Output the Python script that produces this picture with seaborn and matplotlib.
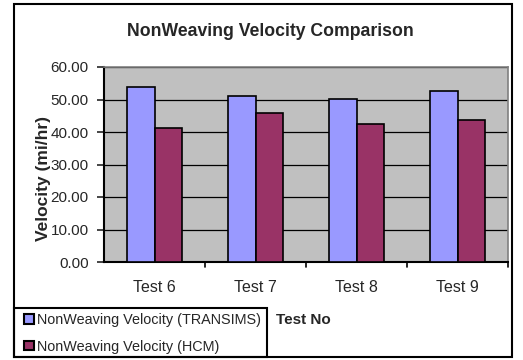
import pandas as pd
import numpy as np
import matplotlib.pyplot as plt
import seaborn as sns
from matplotlib.patches import Rectangle

sns.set_style('white')
plt.rcParams['font.family'] = ['Liberation Sans', 'DejaVu Sans']

# Data
tests = ['Test 6', 'Test 7', 'Test 8', 'Test 9']
transims = [53.8, 51.2, 50.1, 52.5]
hcm = [41.3, 45.8, 42.6, 43.6]
series = ['NonWeaving Velocity (TRANSIMS)', 'NonWeaving Velocity (HCM)']

df = pd.DataFrame({
    'Test': tests * 2,
    'Velocity': transims + hcm,
    'Series': [series[0]] * 4 + [series[1]] * 4,
})

fig = plt.figure(figsize=(5.23, 3.6), dpi=100)
W, H = 523, 360
ax = fig.add_axes([104 / W, 1 - 262 / H, (508 - 104) / W, (262 - 67) / H])

sns.barplot(data=df, x='Test', y='Velocity', hue='Series',
            palette=['#9999FF', '#993366'], saturation=1, width=0.55, gap=0,
            edgecolor='black', linewidth=1.2, ax=ax, legend=False,
            zorder=3)

ax.set_facecolor('#C0C0C0')
ax.set_ylim(0, 60)
ax.set_xlim(-0.5, 3.5)
ax.set_yticks(np.arange(0, 61, 10))
ax.set_yticklabels([f'{v:.2f}' for v in np.arange(0, 61, 10)], fontsize=11)
ax.yaxis.grid(True, color='black', linewidth=0.9, zorder=1)
ax.set_axisbelow(True)
ax.tick_params(axis='y', direction='out', length=5, width=1.2, left=True, pad=6)
ax.set_xticks([0, 1, 2, 3])
ax.set_xticklabels(tests, fontsize=11.5)
ax.tick_params(axis='x', length=0, pad=13)
for b in [0.5, 1.5, 2.5, 3.5]:
    ax.plot([b, b], [0, -0.025], transform=ax.get_xaxis_transform(),
            color='black', linewidth=1.2, clip_on=False)
ax.set_xlabel('')
ax.set_ylabel('Velocity (mi/hr)', fontsize=12.5, fontweight='bold')
ax.yaxis.set_label_coords((51 - 104) / (508 - 104), 0.43)

for side in ['top', 'right']:
    ax.spines[side].set_color('#808080')
    ax.spines[side].set_linewidth(1.2)
for side in ['left', 'bottom']:
    ax.spines[side].set_color('black')
    ax.spines[side].set_linewidth(1.5)

fig.text(270 / W, 1 - 32 / H, 'NonWeaving Velocity Comparison',
         ha='center', va='center', fontsize=12.7, fontweight='bold')
fig.text(276 / W, 1 - 320 / H, 'Test No', ha='left', va='center',
         fontsize=11, fontweight='bold')

# outer chart border
fig.patches.append(Rectangle((14 / W, 1 - 357 / H), (512 - 14) / W, (357 - 4) / H,
                             transform=fig.transFigure, fill=False,
                             edgecolor='black', linewidth=1.5))

# legend box
fig.patches.append(Rectangle((14 / W, 1 - 357 / H), (267 - 14) / W, (357 - 308) / H,
                             transform=fig.transFigure, fill=False,
                             edgecolor='black', linewidth=1.5))
handles = [Rectangle((0, 0), 1, 1, facecolor=c, edgecolor='black', linewidth=1.5)
           for c in ['#9999FF', '#993366']]
leg = fig.legend(handles, series, loc='upper left',
                 bbox_to_anchor=(20 / W, 1 - 309 / H), fontsize=10.4,
                 frameon=False, handlelength=0.65, handleheight=0.65,
                 handletextpad=0.2, borderpad=0.3, labelspacing=0.85,
                 borderaxespad=0)

fig.savefig('out.png', dpi=100)
